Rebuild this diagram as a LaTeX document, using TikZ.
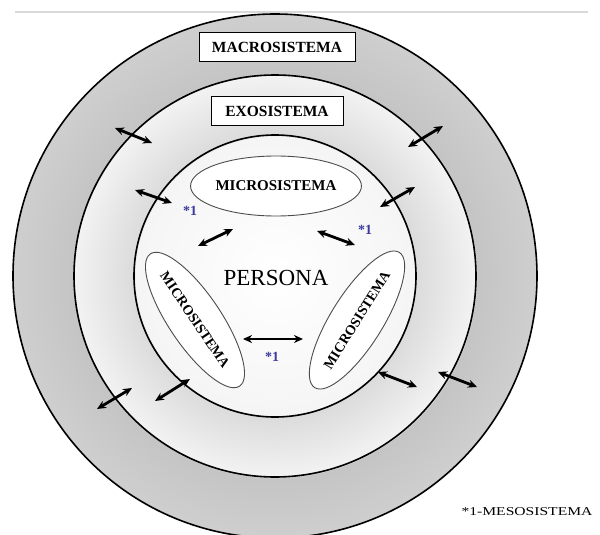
\documentclass[tikz,border=0pt]{standalone}
\usepackage{fontspec}
\setmainfont{Liberation Serif}
\usetikzlibrary{arrows.meta,shapes.geometric}
\definecolor{cIn0}{gray}{1.0}
\definecolor{cIn1}{gray}{0.96}
\definecolor{cMid0}{gray}{0.86}
\definecolor{cMid1}{gray}{0.95}
\definecolor{cOut0}{gray}{0.77}
\definecolor{cOut1}{gray}{0.81}
\definecolor{mesoblue}{RGB}{60,60,160}
\pgfdeclareradialshading{rings}{\pgfpoint{0bp}{0bp}}{%
 color(0bp)=(cIn0); color(13.35bp)=(cIn1); color(13.45bp)=(cMid0);
 color(19.15bp)=(cMid1); color(19.25bp)=(cOut0); color(25bp)=(cOut1);
 color(50bp)=(cOut1)}
\begin{document}
\begin{tikzpicture}[x=1pt,y=-1pt,
  ringline/.style={draw=black,line width=1.6pt},
  box/.style={draw=black,fill=white,line width=0.9pt,inner sep=0pt,
    font=\bfseries\fontsize{15.5}{15.5}\selectfont},
  mell/.style={ellipse,draw=black!70,fill=white,line width=0.9pt,inner sep=0pt,
    font=\bfseries\fontsize{15}{15}\selectfont},
  sell/.style={mell,font=\bfseries\fontsize{14}{14}\selectfont},
  dbl/.style={{Stealth[length=9pt,width=8pt]}-{Stealth[length=9pt,width=8pt]},
    line width=2.8pt,black},
  meso/.style={text=mesoblue,font=\bfseries\fontsize{14}{14}\selectfont,inner sep=0pt}]
\useasboundingbox (0,0) rectangle (600,535);
% top rule
\coordinate (ruleL) at (15,12);
\coordinate (ruleR) at (588,12);
\draw[black!15,line width=1.5pt] (ruleL) -- (ruleR);
% rings
\coordinate (ctr) at (275,276);
\path[shading=rings] (ctr) circle[radius=262pt];
\draw[ringline] (ctr) circle[radius=262pt];
\draw[ringline] (ctr) circle[radius=201pt];
\draw[ringline] (ctr) circle[radius=141pt];
% labels
\node[box,minimum width=156pt,minimum height=29pt] (macro) at (277,47) {MACROSISTEMA};
\node[box,minimum width=132pt,minimum height=29pt] (exo) at (277,111) {EXOSISTEMA};
\node[mell,minimum width=165pt,minimum height=60pt] (microT) at (276,186) {MICROSISTEMA};
\node[sell,minimum width=154pt,minimum height=52pt,rotate=-56] (microL) at (195,320) {MICROSISTEMA};
\node[sell,minimum width=158pt,minimum height=52pt,rotate=58] (microR) at (357,320) {MICROSISTEMA};
\node[font=\fontsize{23}{23}\selectfont,inner sep=0pt] (persona) at (276,278) {PERSONA};
\node[meso] (m1) at (190,211) {*1};
\node[meso] (m2) at (365,230) {*1};
\node[meso] (m3) at (272,357) {*1};
\node[font=\fontsize{12}{12}\selectfont,inner sep=0pt] (legend) at (527,512) {\scalebox{1.3}[1]{*1-MESOSISTEMA}};
% arrows
\coordinate (a1s) at (115,128); \coordinate (a1e) at (152,143);
\coordinate (a2s) at (408,147); \coordinate (a2e) at (443,126);
\coordinate (a3s) at (135,190); \coordinate (a3e) at (172,203);
\coordinate (a4s) at (380,207); \coordinate (a4e) at (415,187);
\coordinate (a5s) at (198,246); \coordinate (a5e) at (233,229);
\coordinate (a6s) at (317,231); \coordinate (a6e) at (355,245);
\coordinate (a7s) at (243,339); \coordinate (a7e) at (303,339);
\coordinate (a8s) at (97,409);  \coordinate (a8e) at (132,388);
\coordinate (a9s) at (155,401); \coordinate (a9e) at (190,379);
\coordinate (a10s) at (378,372); \coordinate (a10e) at (417,387);
\coordinate (a11s) at (438,372); \coordinate (a11e) at (477,387);
\foreach \i in {1,...,11} {\draw[dbl] (a\i s) -- (a\i e);}
\end{tikzpicture}
\end{document}
